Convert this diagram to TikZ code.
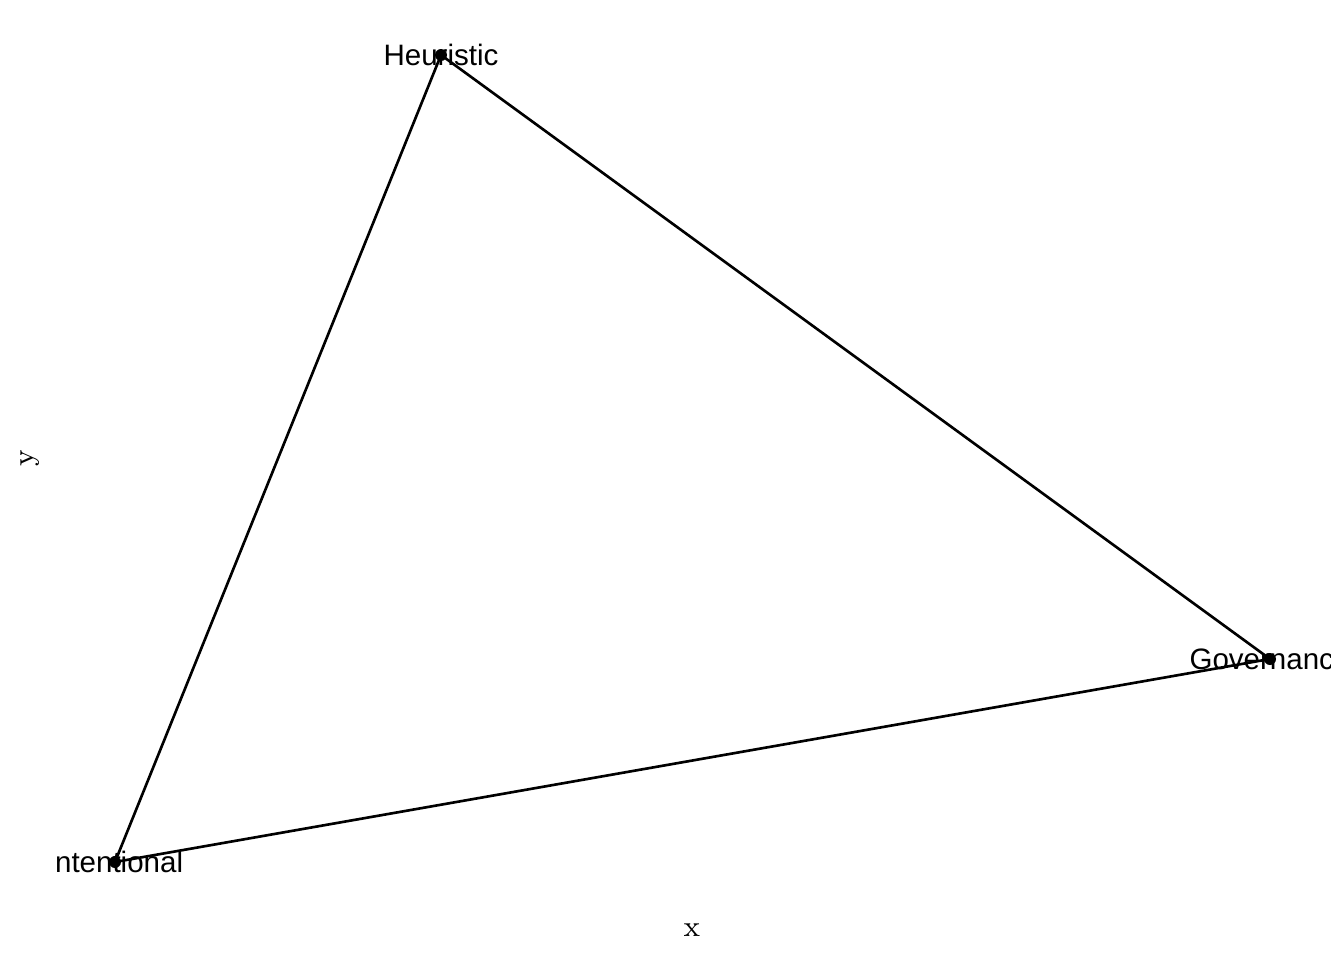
\documentclass[tikz,border=0pt]{standalone}
\usepackage{fontspec}
\setmainfont{Liberation Sans}
\newfontfamily\axisfont{Latin Modern Roman}
\usepackage{tikz}
\usetikzlibrary{positioning}
\tikzset{
  vdot/.style  ={circle, fill=black, inner sep=0pt, minimum size=0.12cm},
  vlabel/.style={inner sep=0pt, font=\fontsize{8.4}{10}\selectfont, anchor=center},
  axlabel/.style={inner sep=0pt, font=\axisfont\fontsize{8.4}{10}\selectfont},
  edge/.style  ={line width=0.75pt, black},
}

\begin{document}
\begin{tikzpicture}
  \useasboundingbox (0,0) rectangle (13.44,9.60);
  %% vertex positions
  \coordinate (heu) at (4.41,9.05);
  \coordinate (gov) at (12.70,3.01);
  \coordinate (int) at (1.15,0.98);
  %% panel
  \begin{scope}
    \clip (0.55,0.55) rectangle (13.30,9.55);
    \draw[edge] (heu) -- (gov) -- (int) -- cycle;
    \node[vdot] (heudot) at (heu) {};
    \node[vdot] (govdot) at (gov) {};
    \node[vdot] (intdot) at (int) {};
    \node[vlabel] (heulab) at (heu) {Heuristic};
    \node[vlabel] (govlab) at (gov) {Governance};
    \node[vlabel] (intlab) at (int) {Intentional};
  \end{scope}
  %% axis titles
  \node[axlabel] (xlab) at (6.92,0.30) {x};
  \node[axlabel, rotate=90] (ylab) at (0.30,5.02) {y};
\end{tikzpicture}
\end{document}
